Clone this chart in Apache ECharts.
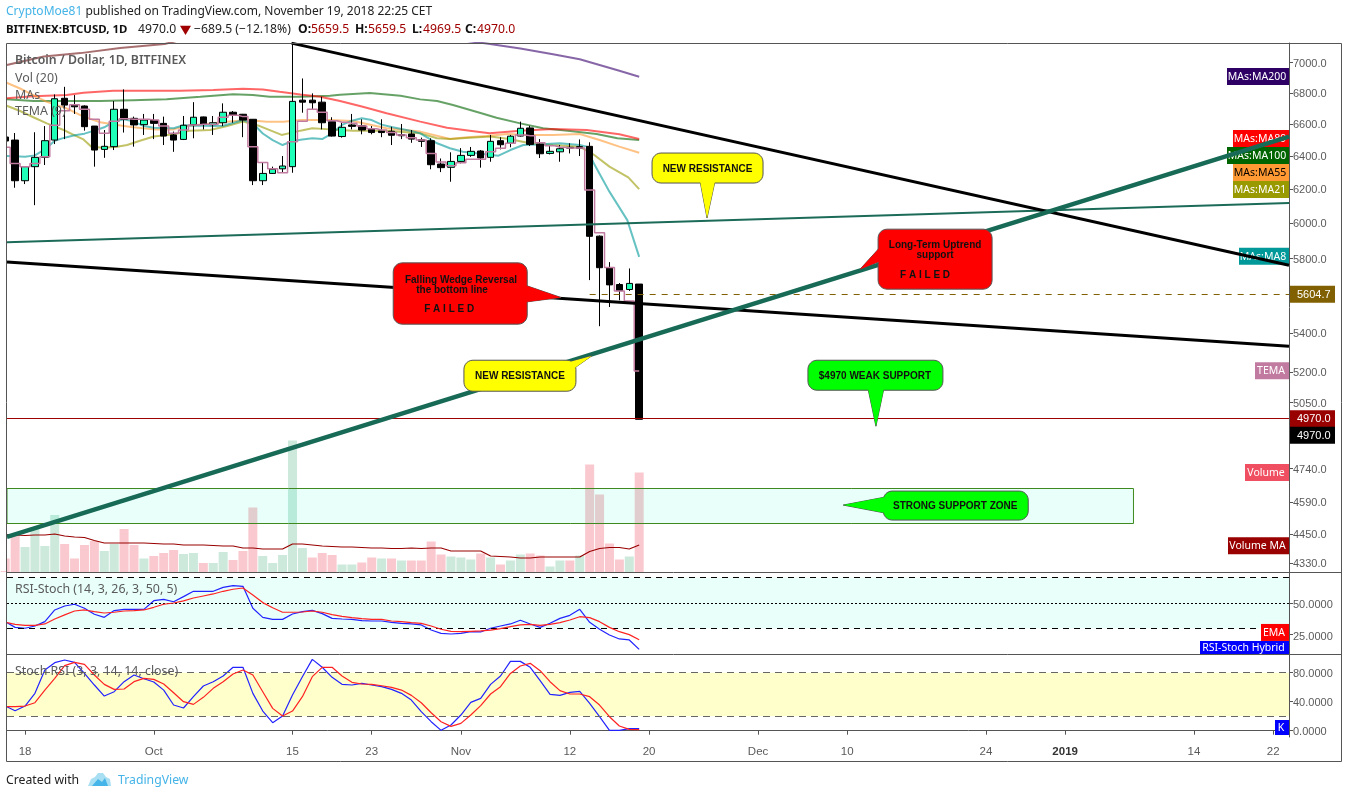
<!DOCTYPE html>
<html><head><meta charset="utf-8">
<style>html,body{margin:0;padding:0;background:#fff}#c{width:1348px;height:798px}</style>
<script src="https://cdn.jsdelivr.net/npm/echarts@6/dist/echarts.min.js"></script>
</head><body><div id="c"></div>
<script>
// ---- time: day 0 = 18 Sep 2018, one unit per daily candle
const firstDay = -2;
const xTickDays   = [0,13,27,35,44,55,63,74,83,97,105,118,126];
const xTickLabels = ['18','Oct','15','23','Nov','12','20','Dec','10','24','2019','14','22'];

// ---- daily candles
const candleOpen = [6518,6499,6250,6335,6392,6499,6765,6723,6715,6587,6441,6458,6694,6636,6596,6623,6604,6531,6503,6596,6645,6596,6608,6675,6662,6630,6250,6294,6322,6335,6753,6753,6740,6615,6521,6594,6589,6568,6556,6554,6533,6537,6501,6495,6351,6331,6367,6404,6431,6392,6495,6479,6524,6575,6474,6416,6426,6454,6458,6460,5926,5749,5657,5630,5659.5];
const candleClose = [6493,6250,6335,6392,6495,6762,6721,6710,6583,6437,6460,6694,6630,6594,6625,6604,6524,6499,6592,6643,6600,6608,6675,6657,6625,6250,6294,6319,6339,6745,6740,6736,6608,6524,6579,6585,6562,6546,6546,6529,6526,6505,6491,6347,6329,6367,6404,6429,6388,6491,6470,6523,6573,6472,6414,6429,6445,6449,6448,5925,5749,5655,5624,5663,4970];
const candleLow = [6493,6208,6230,6105,6345,6474,6505,6664,6558,6335,6389,6437,6546,6458,6531,6505,6468,6426,6499,6510,6566,6531,6587,6608,6517,6224,6224,6291,6298,6298,6672,6694,6566,6521,6514,6566,6535,6535,6517,6468,6505,6482,6456,6319,6302,6244,6355,6395,6329,6365,6441,6454,6521,6462,6388,6410,6365,6416,6400,5681,5435,5536,5572,5622,4969.5];
const candleHigh = [6518,6543,6339,6548,6587,6790,6840,6786,6719,6587,6562,6747,6823,6647,6664,6664,6647,6552,6651,6740,6647,6651,6732,6683,6664,6630,6359,6335,6400,7134,6895,6797,6775,6643,6608,6664,6630,6587,6630,6583,6600,6562,6514,6510,6385,6423,6449,6456,6437,6531,6517,6531,6615,6589,6505,6468,6468,6479,6503,6485,5930,5780,5665,5745,5659.5];

// ---- volume (thousand units) and its moving average
const volume = [2.7,7.4,5.0,8.8,5.2,11.4,5.6,2.7,5.4,6.2,4.2,5.6,8.6,5.4,2.7,3.2,3.8,4.4,3.6,3.8,1.8,1.8,4.0,2.4,4.2,12.9,3.2,1.8,3.4,26.3,4.8,2.9,3.8,3.4,1.5,1.5,1.9,2.9,2.7,2.7,2.3,2.3,2.3,6.1,3.5,3.1,2.9,2.5,3.7,2.9,1.5,2.3,3.5,3.7,3.3,1.1,2.3,2.3,3.3,21.5,15.5,5.7,2.5,3.1,19.9];
const volumeUp = [0,0,1,1,1,1,0,0,0,0,1,1,0,0,1,0,0,0,1,1,0,1,1,0,0,0,1,1,1,1,1,0,0,0,1,1,0,0,1,0,1,0,0,0,0,1,1,1,0,1,0,1,1,0,0,1,1,0,1,0,0,0,0,1,0];
const volumeMA = [7.5,7.4,7.3,7.4,7.4,7.6,7.2,7.0,6.9,6.3,5.8,5.8,5.8,5.8,5.8,5.7,5.6,5.6,5.4,5.4,5.4,5.3,5.2,5.2,4.8,4.8,4.6,4.6,4.6,5.6,5.6,5.4,5.2,5.1,5.0,5.0,4.9,4.8,4.8,4.7,4.7,4.8,4.7,4.8,4.8,4.2,4.2,4.2,4.2,3.2,3.1,3.0,2.8,2.8,3.0,3.0,3.0,3.0,3.0,4.1,4.7,4.9,4.9,4.6,5.4];

// ---- moving averages as [day, price]
const ma8 = [[-2,6400],[-1,6398],[0,6395],[1,6404],[2,6441],[3,6495],[4,6514],[5,6529],[6,6539],[7,6558],[8,6579],[9,6615],[10,6630],[11,6615],[12,6587],[13,6576],[14,6575],[15,6573],[16,6592],[17,6589],[18,6589],[19,6587],[20,6589],[21,6606],[22,6625],[23,6604],[24,6540],[25,6499],[26,6468],[27,6493],[28,6503],[29,6510],[30,6505],[31,6541],[32,6594],[33,6621],[34,6636],[35,6625],[36,6596],[37,6581],[38,6568],[39,6556],[39.9,6541],[41.6,6479],[42.9,6448],[44.2,6426],[46,6414],[47.8,6402],[49,6437],[50.3,6468],[51.7,6472],[54,6479],[56,6468],[56.7,6458],[57.4,6357],[58.9,6194],[60.8,6018],[62,5809]];
const ma21 = [[-1.85,6717],[-0.5,6683],[0.84,6643],[2.2,6604],[3.9,6562],[4.9,6531],[5.9,6503],[6.7,6458],[7.9,6451],[9.3,6458],[10.3,6468],[11.6,6495],[13,6521],[15,6535],[16.7,6558],[18.7,6562],[20.4,6587],[22,6615],[23.7,6587],[25.9,6531],[27.8,6558],[29,6573],[30.8,6566],[33.1,6558],[36.5,6558],[39.9,6541],[41.6,6510],[42.9,6505],[44.9,6514],[47,6521],[48.7,6507],[51,6479],[53.3,6468],[56,6458],[57.4,6409],[59,6335],[60.9,6270],[62,6200]];
const ma55 = [[-1.85,6867],[-0.5,6829],[0.84,6786],[2.2,6742],[4.2,6700],[5.9,6647],[7.6,6611],[9.3,6594],[10.9,6579],[13,6566],[15,6566],[16.3,6587],[18.3,6600],[20.4,6615],[22.4,6625],[24.4,6615],[26.1,6615],[27.8,6625],[30.8,6625],[33.1,6619],[36.5,6573],[39.9,6552],[42.9,6505],[44.6,6517],[46.6,6524],[48.7,6537],[51,6531],[53.3,6531],[56,6537],[58,6499],[60,6458],[62,6420]];
const ma89 = [[-1.85,6765],[0.84,6779],[4.2,6786],[5.9,6801],[8.9,6814],[12.3,6814],[15.6,6814],[19,6819],[22,6827],[24,6823],[25.7,6807],[27.8,6790],[29.8,6775],[31.8,6747],[34.1,6710],[36.5,6668],[39.9,6615],[42.6,6576],[44.9,6558],[46.9,6541],[50,6558],[53.3,6568],[56.7,6562],[60,6535],[62,6505]];
const ma100 = [[-1.85,6758],[0.84,6747],[4.2,6747],[7.6,6747],[10.9,6753],[14.3,6758],[17.7,6775],[21,6792],[23,6786],[24.7,6775],[27.8,6775],[30.8,6781],[31.8,6788],[34.8,6799],[37.9,6781],[39.9,6758],[41.6,6747],[43.2,6721],[45.9,6672],[47.6,6640],[50,6604],[52.3,6573],[55,6556],[57.7,6537],[59.8,6510],[62,6499]];
const ma200Early = [[-1.85,6985],[1.9,7042],[5.6,7065],[9.6,7100],[14.1,7127],[20,7230]];
const ma200Late = [[40,7190],[46.6,7130],[50,7097],[53.3,7057],[56,7023],[58,6985],[60,6946],[62,6906]];
const tema = [6454,6355,6335,6355,6395,6592,6685,6723,6694,6630,6541,6617,6633,6630,6630,6625,6587,6541,6562,6594,6598,6598,6643,6656,6647,6458,6361,6322,6298,6489,6617,6694,6675,6621,6611,6604,6587,6570,6562,6546,6531,6514,6499,6416,6363,6341,6359,6380,6380,6426,6448,6479,6531,6526,6482,6464,6454,6449,6449,6194,5945,5750,5622,5568,5206];

// ---- oscillators
const rsiHybrid = [35.3,30.8,30.1,31.9,35.3,44.5,47.6,49,45.8,41.1,38.7,44,45,45,45,51.8,52.9,51,55,59.2,59.2,59.2,62.3,63.6,63.1,45.8,38.7,37.1,37.1,41.3,43.2,44.2,41.6,37.9,37.4,37.1,36.1,35.8,35.8,34.8,34,33.5,32.7,28.7,26.1,25.6,26.1,27.4,27.2,30.1,31.9,33.5,36.4,33.5,30.8,34,37.9,40.3,45,34.8,29.3,24.8,21.7,20.9,13.5];
const rsiEma = [34.8,33.2,32.4,32.4,33.5,37.4,40.6,43.7,44.5,43.2,42.1,42.7,43.7,44,44.5,46.6,49,50,51.6,53.9,55.5,57.1,59.2,60.8,61.8,56.3,50.3,46.3,42.7,42.7,42.9,43.7,42.7,40.8,39.5,38.5,37.7,37.1,37.1,35.8,35.3,34.5,34,31.9,29.3,27.7,27.4,27.7,28,28.7,29.8,31.4,32.7,33.2,32.4,33.2,34.5,36.6,39.2,38.5,35.3,30.8,27.4,25.1,21.1];
const stochK = [34,27.6,34,51.5,83.7,93.8,97.5,94.3,79,63,47.8,53.8,67.6,76.8,71.7,67.1,56,35.4,31.3,46.9,61.6,67.6,75.4,87.4,87.4,51.5,27.1,11,20.2,49.2,74.5,98.4,87.5,73.6,63.9,63,65.3,63,60.7,57,51.5,42.3,26.2,12.4,0.5,7.8,21.6,39.1,44.6,63.9,75.4,95.6,95.6,87.4,69,50.1,48.7,52.9,54.3,37.7,19.3,0.5,0.5,2.8,2.8];
const stochD = [33.1,33.1,34,38.6,56,72.2,89.7,94.3,91.5,76.8,63.9,57,57.5,67.6,72.2,70.8,64.4,52.4,40,36.3,46,58.4,67.6,78.2,83.7,76.8,53.8,30.8,20.2,27.1,46.9,74.5,87.4,87.4,75.4,66.7,64.4,63.9,62,59.8,56,48.7,38.6,24.8,12.4,6,10.1,21.6,34.5,50.6,60.7,79,89.2,92.9,82.8,67.6,55.2,50.6,50.6,46.9,35.4,19.3,6.4,1.8,1.4];

// ---- axis ticks
const priceTicks = [7000,6800,6600,6400,6200,6000,5800,5400,5200,5050,4740,4590,4450,4330];
const rsiTicks = [50,25];
const stochTicks = [80,40,0];

// ---- levels and drawn trend lines, as [day, price]
const lastClose = 4970, resistanceLevel = 5604.7;
const trendUpperBlack = [[26.9,7133],[127.6,5763]];
const trendLowerBlack = [[-1.82,5780],[127.6,5331]];
const trendThinGreen  = [[-1.82,5891],[127.6,6117]];
const trendThickGreen = [[-1.82,4439],[127.6,6521]];
const levelLines = [[57,resistanceLevel],[-1.82,lastClose]];
const supportZone = {fromDay:-1.82,toDay:111.9,top:4653,bottom:4498};

// ---- callout anchors (day, price at pointer tip) and words
const calloutTips = [[68.85,6030],[84.3,5741],[54.1,5587],[57.2,5282],[85.9,4937],[82.6,4577]];
const calloutWords = [['NEW RESISTANCE'],['Long-Term Uptrend','support','F A I L E D'],['Falling Wedge Reversal','the bottom line','F A I L E D'],['NEW RESISTANCE'],['$4970 WEAK SUPPORT'],['STRONG SUPPORT ZONE']];

// ---- value tags: label + price of tag centre
const mainTagNames = ['MAs:MA200','MAs:MA89','MAs:MA100','MAs:MA55','MAs:MA21','MAs:MA8','TEMA','Volume','Volume MA'];
const mainTagPrices = [6908,6508,6403,6299,6197,5812,5207,4722,4402];

// ---- styles (geometry relative to the anchor, pixels)
const calloutStyle = [
 {fill:'#ffff00',box:[-55,-65,56,-35],base:[[-7,-37],[8,-37]],text:[[.5,-49,'center']]},
 {fill:'#ff0000',box:[18,-40,132,20],base:[[20,-22],[20,-8]],text:[[75,-24,'center'],[75,-14,'center'],[65,6,'center']]},
 {fill:'#ff0000',box:[-167.7,-34.6,-33.7,26.7],base:[[-35,-12],[-35,4.5]],text:[[-156,-17.5,'left'],[-144.7,-7.3,'left'],[-136.7,12,'left']]},
 {fill:'#ffff00',box:[-127.7,4.3,-15.7,35.3],base:[[-22,6],[-17,12]],text:[[-71.7,20.5,'center']]},
 {fill:'#00ff00',box:[-68,-66,67,-36],base:[[-8,-38],[8,-38]],text:[[-1,-50,'center']]},
 {fill:'#00ff00',box:[40,-14,185,15],base:[[42,-8],[42,8]],text:[[112,1,'center']]}
];
const tagStyle = {
 'MAs:MA200':['#2e0066','#fff',62],'MAs:MA89':['#ff0000','#fff',56],'MAs:MA100':['#006400','#fff',62],'MAs:MA55':['#ff9933','#000',56],
 'MAs:MA21':['#999900','#fff',56],'MAs:MA8':['#009999','#fff',50],'TEMA':['#c27ba0','#fff',34],'Volume':['#ef4f60','#fff',44],'Volume MA':['#990000','#fff',61]
};
const levelStyle = [{color:'#806000',dash:[6,6],nudge:0},{color:'#a00000',dash:null,nudge:-1}];
const TXT='#5a5a5a', UI='"Noto Sans",sans-serif', AR='"Liberation Sans",Arial,sans-serif';
const xMin=-1.82, xMax=127.6;
const days = candleOpen.map((_,i)=>firstDay+i);
const zip = arr => arr.map((v,i)=>[days[i],v]);

const lineS = (data,color,width,z,extra)=>Object.assign({type:'line',data,showSymbol:false,symbol:'none',silent:true,z,
  lineStyle:{color,width},xAxisIndex:0,yAxisIndex:0},extra||{});

function roundRect(x1,y1,x2,y2,r){
  const p=[],cs=[[x2-r,y1+r,-90],[x2-r,y2-r,0],[x1+r,y2-r,90],[x1+r,y1+r,180]];
  cs.forEach(c=>{for(let a=0;a<=90;a+=15){const t=(c[2]+a)*Math.PI/180;p.push([c[0]+r*Math.cos(t),c[1]+r*Math.sin(t)]);}});
  return p;
}
function renderCallout(params,api){
  const i=params.dataIndex,st=calloutStyle[i],c=api.coord([api.value(0),api.value(1)]);
  const b=st.box,ox=c[0],oy=c[1];
  const tail=[[ox+st.base[0][0],oy+st.base[0][1]],[ox,oy],[ox+st.base[1][0],oy+st.base[1][1]]];
  const children=[
    {type:'polygon',shape:{points:tail},style:{fill:st.fill,stroke:'#555',lineWidth:1}},
    {type:'polygon',shape:{points:roundRect(ox+b[0],oy+b[1],ox+b[2],oy+b[3],9)},style:{fill:st.fill,stroke:'#555',lineWidth:1}},
    {type:'polygon',shape:{points:tail},style:{fill:st.fill}}
  ];
  calloutWords[i].forEach((w,k)=>{const t=st.text[k];children.push({type:'text',style:{text:w,x:ox+t[0],y:oy+t[1],textAlign:t[2],textVerticalAlign:'middle',fill:'#111',font:'bold 10px '+AR}});});
  return {type:'group',children};
}
function tagSeries(names,vals,styles,xi,yi,h){
  return {type:'custom',coordinateSystem:'cartesian2d',xAxisIndex:xi,yAxisIndex:yi,silent:true,z:6,clip:false,
    data:vals.map(v=>[xMax,v]),encode:{x:0,y:1},
    renderItem(params,api){
      const c=api.coord([api.value(0),api.value(1)]),n=names[params.dataIndex],s=styles[n];
      return {type:'group',children:[
        {type:'rect',shape:{x:c[0]-s[2],y:c[1]-h/2,width:s[2],height:h},style:{fill:s[0]}},
        {type:'text',style:{text:n,x:c[0]-s[2]/2-1,y:c[1]+.5,textAlign:'center',textVerticalAlign:'middle',fill:s[1],font:'10.5px '+UI}}
      ]};
    }};
}
function axisTagSeries(){
  const tags=[[resistanceLevel,'#806000',0,'5604.7'],[lastClose,'#990000',-.5,'4970.0'],[lastClose,'#000000',16,'4970.0']];
  return {type:'custom',coordinateSystem:'cartesian2d',xAxisIndex:0,yAxisIndex:0,silent:true,z:8,clip:false,
    data:tags.map(t=>[xMax,t[0]]),encode:{x:0,y:1},
    renderItem(params,api){
      const t=tags[params.dataIndex],c=api.coord([api.value(0),api.value(1)]),y=c[1]+t[2];
      return {type:'group',children:[
        {type:'rect',shape:{x:c[0]+1,y:y-8.5,width:45,height:17},style:{fill:t[1]}},
        {type:'text',style:{text:t[3],x:c[0]+8,y:y+.5,textAlign:'left',textVerticalAlign:'middle',fill:'#fff',font:'11px '+AR}}
      ]};
    }};
}
function levelSeries(){
  return {type:'custom',coordinateSystem:'cartesian2d',xAxisIndex:0,yAxisIndex:0,silent:true,z:5,clip:true,
    data:levelLines,encode:{x:0,y:1},
    renderItem(params,api){
      const s=levelStyle[params.dataIndex],a=api.coord([api.value(0),api.value(1)]),b=api.coord([xMax,api.value(1)]),y=Math.round(a[1]+s.nudge);
      const children=[];
      if(s.dash){ for(let x=a[0];x<b[0];x+=s.dash[0]+s.dash[1]) children.push({type:'rect',shape:{x,y,width:s.dash[0],height:1},style:{fill:s.color}}); }
      else children.push({type:'rect',shape:{x:a[0],y,width:b[0]-a[0],height:1},style:{fill:s.color}});
      return {type:'group',children};
    }};
}
// y-axis tick text, sitting slightly lower than its tick as in the reference
const yLabel=(ticks,digits,pad)=>({color:TXT,fontFamily:AR,fontSize:11,margin:4,customValues:ticks,
  formatter:v=>'{t|'+Number(v).toFixed(digits)+'}',
  rich:{t:{color:TXT,fontFamily:AR,fontSize:11,padding:[pad,0,0,0]}}});
const greyLabel=(text,left,top,font)=>({type:'text',x:left,y:top,z:30,silent:true,style:{text,fill:TXT,font:font||('12.4px '+UI),textVerticalAlign:'middle'}});
const headText=(text,left,fill,weight,size)=>({type:'text',x:left,y:30,z:30,silent:true,style:{text,fill,font:(weight||'')+' '+(size||12.2)+'px '+UI,textVerticalAlign:'middle'}});
const divider=(y,x2)=>({type:'line',z:1,silent:true,shape:{x1:6,y1:y,x2,y2:y},style:{stroke:'#555',lineWidth:1}});

const option={
 animation:false,backgroundColor:'#fff',
 grid:[
  {left:7,right:59,top:43,height:529},
  {left:7,right:59,top:573,height:81},
  {left:7,right:59,top:655,height:82}
 ],
 xAxis:[0,1,2].map(i=>({type:'value',gridIndex:i,min:xMin,max:xMax,show:i===2,splitLine:{show:false},
   axisLine:{lineStyle:{color:'#555'}},
   axisTick:{show:i===2,length:4,lineStyle:{color:'#555'},customValues:xTickDays},
   axisLabel:{show:i===2,color:TXT,fontFamily:AR,fontSize:11.5,margin:9,customValues:xTickDays,
     formatter:v=>{const l=xTickLabels[xTickDays.indexOf(Math.round(v))];return l==='2019'?'{b|2019}':l;},
     rich:{b:{fontWeight:'bold',color:'#333',fontFamily:AR,fontSize:11.5}}}
 })),
 yAxis:[
  {type:'log',logBase:10,gridIndex:0,position:'right',min:4292,max:7134,splitLine:{show:false},minorTick:{show:false},
   axisLine:{show:true,onZero:false,lineStyle:{color:'#555'}},axisTick:{length:4,lineStyle:{color:'#555'},customValues:priceTicks},
   axisLabel:yLabel(priceTicks,1,2)},
  {type:'value',gridIndex:0,min:0,max:105.8,show:false,splitLine:{show:false}},
  {type:'value',gridIndex:1,position:'right',min:9.84,max:73.6,splitLine:{show:false},
   axisLine:{show:true,onZero:false,lineStyle:{color:'#555'}},axisTick:{length:4,lineStyle:{color:'#555'},customValues:rsiTicks},
   axisLabel:yLabel(rsiTicks,4,4)},
  {type:'value',gridIndex:2,position:'right',min:-8.7,max:104.4,splitLine:{show:false},
   axisLine:{show:true,onZero:false,lineStyle:{color:'#555'}},axisTick:{length:4,lineStyle:{color:'#555'},customValues:stochTicks},
   axisLabel:yLabel(stochTicks,4,2)}
 ],
 series:[
  {type:'bar',name:'Volume',xAxisIndex:0,yAxisIndex:1,z:1,barWidth:9,silent:true,
   data:volume.map((v,i)=>({value:[days[i],v],itemStyle:{color:volumeUp[i]?'#cce9dc':'#f9c9cf'}}))},
  {type:'custom',name:'support zone',coordinateSystem:'cartesian2d',xAxisIndex:0,yAxisIndex:0,z:2,silent:true,clip:true,
   data:[[supportZone.fromDay,supportZone.top,supportZone.toDay,supportZone.bottom]],encode:{x:[0,2],y:[1,3]},
   renderItem(p,api){const a=api.coord([api.value(0),api.value(1)]),b=api.coord([api.value(2),api.value(3)]);
     return {type:'rect',shape:{x:a[0],y:Math.round(a[1])+.5,width:b[0]-a[0],height:Math.round(b[1]-a[1])},style:{fill:'rgba(0,255,200,0.09)',stroke:'#3f8a1e',lineWidth:1}};}},
  lineS(zip(volumeMA),'#990000',1.2,3,{yAxisIndex:1}),
  lineS(ma200Early,'rgba(130,50,50,.7)',2,3),
  lineS(ma200Late,'rgba(70,20,120,.65)',2,3),
  lineS(ma100,'rgba(0,100,0,.6)',2,3),
  lineS(ma89,'rgba(255,0,0,.6)',2,3),
  lineS(ma55,'rgba(255,153,51,.6)',2,3),
  lineS(ma21,'rgba(153,153,0,.6)',2,3),
  lineS(ma8,'rgba(0,153,153,.6)',2,3),
  {type:'candlestick',name:'BTCUSD',xAxisIndex:0,yAxisIndex:0,z:4,silent:true,barWidth:7,
   data:days.map((d,i)=>[d,candleOpen[i],candleClose[i],candleLow[i],candleHigh[i]]),encode:{x:0,y:[1,2,3,4]},
   itemStyle:{color:'#1effb8',color0:'#000',borderColor:'#000',borderColor0:'#000',borderWidth:1}},
  lineS(zip(tema),'#c27ba0',1.5,5,{step:'middle'}),
  levelSeries(),
  tagSeries(mainTagNames,mainTagPrices,tagStyle,0,0,17),
  lineS(trendThinGreen,'#1b6b58',2,7),
  lineS(trendUpperBlack,'#000',3,7),
  lineS(trendLowerBlack,'#000',3,7),
  lineS(trendThickGreen,'#176a56',4.5,7),
  axisTagSeries(),
  {type:'custom',name:'callouts',coordinateSystem:'cartesian2d',xAxisIndex:0,yAxisIndex:0,z:9,silent:true,clip:false,
   data:calloutTips,encode:{x:0,y:1},renderItem:renderCallout},

  lineS(zip(rsiHybrid),'#2222ff',1.2,4,{xAxisIndex:1,yAxisIndex:2,
    markArea:{silent:true,itemStyle:{color:'#e8fffa'},data:[[{yAxis:70},{yAxis:30}]]},
    markLine:{silent:true,symbol:'none',label:{show:false},data:[
      {yAxis:70,lineStyle:{color:'#000',type:[6,5],width:1}},
      {yAxis:50,lineStyle:{color:'#000',type:[2,2],width:1}},
      {yAxis:30,lineStyle:{color:'#000',type:[6,5],width:1}}]}}),
  lineS(zip(rsiEma),'#ff2222',1.2,5,{xAxisIndex:1,yAxisIndex:2}),
  tagSeries(['EMA'],[26.8],{'EMA':['#ff0000','#fff',28]},1,2,17),
  tagSeries(['RSI-Stoch Hybrid'],[15],{'RSI-Stoch Hybrid':['#0000ff','#fff',89]},1,2,13),

  lineS(zip(stochK),'#2222ff',1.2,4,{xAxisIndex:2,yAxisIndex:3,
    markArea:{silent:true,itemStyle:{color:'#ffffcc'},data:[[{yAxis:80},{yAxis:20}]]},
    markLine:{silent:true,symbol:'none',label:{show:false},data:[
      {yAxis:80,lineStyle:{color:'#666',type:[7,5],width:1}},
      {yAxis:20,lineStyle:{color:'#666',type:[7,5],width:1}}]}}),
  lineS(zip(stochD),'#ff2222',1.2,5,{xAxisIndex:2,yAxisIndex:3}),
  tagSeries(['K'],[4.4],{'K':['#0000ff','#fff',14]},2,3,15)
 ],
 graphic:[
  {type:'rect',z:20,silent:true,shape:{x:0,y:44,width:6,height:527},style:{fill:'#fff'}},
  {type:'rect',z:21,silent:true,shape:{x:6.5,y:43.5,width:1335,height:718},style:{fill:'none',stroke:'#555',lineWidth:1}},
  divider(572.5,1341),
  divider(654.5,1341),
  {type:'text',x:6,y:11.5,z:30,silent:true,style:{text:'{a|CryptoMoe81} published on TradingView.com, November 19, 2018 22:25 CET',
    font:'12px '+UI,fill:'#222',textVerticalAlign:'middle',rich:{a:{fill:'#45b4e8',font:'12px '+UI}}}},
  headText('BITFINEX:BTCUSD, 1D',6,'#111','bold',11.45),
  headText('4970.0',138,'#222'),
  {type:'polygon',z:30,silent:true,shape:{points:[[180,25.7],[191,25.7],[185.5,35]]},style:{fill:'#a00000'}},
  headText('−689.5 (−12.18%)',194,'#222'),
  headText('O:',298,'#111','bold'),headText('5659.5',311,'#a00000'),
  headText('H:',355,'#111','bold'),headText('5659.5',368,'#a00000'),
  headText('L:',412,'#111','bold'),headText('4969.5',423,'#a00000'),
  headText('C:',465,'#111','bold'),headText('4970.0',477,'#a00000'),
  greyLabel('Bitcoin / Dollar, 1D, BITFINEX',15,60.5,'600 12.3px '+UI),
  greyLabel('Vol (20)',15,78),
  greyLabel('MAs',15,95),
  greyLabel('TEMA (9)',15,111.5),
  greyLabel('RSI-Stoch (14, 3, 26, 3, 50, 5)',15,589.5),
  greyLabel('Stoch RSI (3, 3, 14, 14, close)',15,671.5),
  {type:'text',x:6,y:781,z:30,silent:true,style:{text:'Created with',font:'12.25px '+UI,fill:'#222',textVerticalAlign:'middle'}},
  {type:'polygon',z:30,silent:true,shape:{points:[[88,786],[91,779],[95,777],[98,773],[103,773],[106,777],[110,779],[111,786]]},style:{fill:'#a8dff2'}},
  {type:'polygon',z:31,silent:true,shape:{points:[[92,786],[98,779],[102,782],[105,778],[108,786]]},style:{fill:'#45b4e8'}},
  {type:'text',x:118,y:781,z:30,silent:true,style:{text:'TradingView',font:'12.25px '+UI,fill:'#45b4e8',textVerticalAlign:'middle'}}
 ]
};
echarts.init(document.getElementById('c'),null,{renderer:'canvas'}).setOption(option);
</script></body></html>
